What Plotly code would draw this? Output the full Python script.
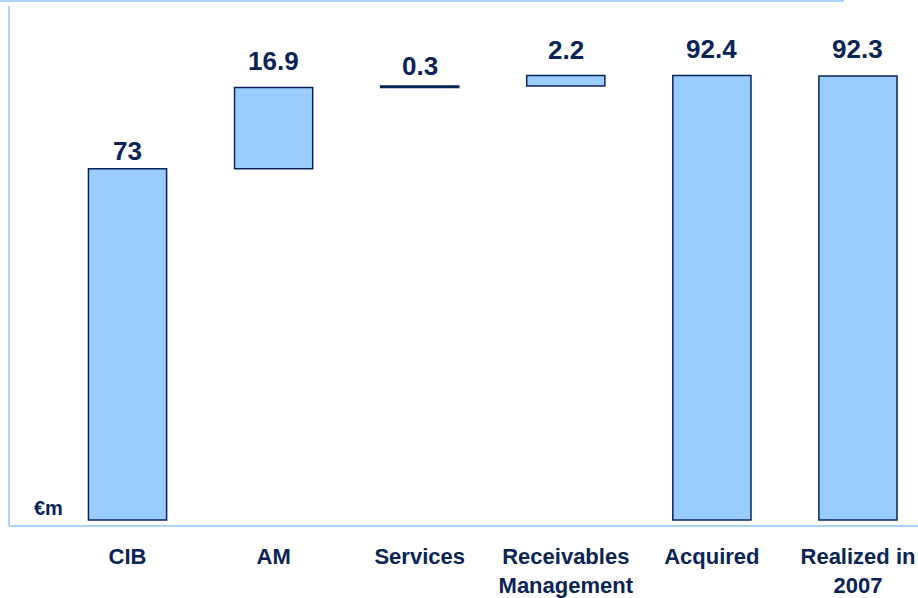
import plotly.graph_objects as go

categories = ["CIB", "AM", "Services", "Receivables<br>Management", "Acquired", "Realized in<br>2007"]
values = [73, 16.9, 0.3, 2.2, 92.4, 92.3]
measures = ["absolute", "relative", "relative", "relative", "total", "absolute"]
labels = ["73", "16.9", "0.3", "2.2", "92.4", "92.3"]

NAVY = "#0a2456"
FILL = "#99CCFF"
FRAME = "#A9D3FF"
FONT = "Liberation Sans, Arial, sans-serif"

xs = list(range(len(categories)))

fig = go.Figure()
fig.add_trace(go.Waterfall(
    x=xs, y=values, measure=measures,
    width=0.535,
    increasing=dict(marker=dict(color=FILL, line=dict(color=NAVY, width=1.5))),
    decreasing=dict(marker=dict(color=FILL, line=dict(color=NAVY, width=1.5))),
    totals=dict(marker=dict(color=FILL, line=dict(color=NAVY, width=1.5))),
    connector=dict(visible=False),
    text=None, hoverinfo="skip", showlegend=False,
))

# compute bar tops for labels
tops = []
cum = 0
for v, m in zip(values, measures):
    if m == "absolute":
        cum = v
    elif m == "relative":
        cum += v
    tops.append(cum)

shifts = [1, 10, 3, 9, 10, 10]
for x, t, lab, s in zip(xs, tops, labels, shifts):
    fig.add_annotation(x=x, y=t, text=lab, showarrow=False, yanchor="bottom",
                       yshift=s, font=dict(family=FONT, size=26, color=NAVY, weight="bold"))

fig.add_annotation(xref="paper", yref="paper", x=48/918, y=(529-511)/529, text="€m",
                   showarrow=False, xanchor="center", yanchor="middle",
                   font=dict(family=FONT, size=20, color=NAVY, weight="bold"))

# frame lines
fig.add_shape(type="line", xref="paper", yref="paper", x0=0, x1=844/918, y0=1 - 1/529, y1=1 - 1/529,
              line=dict(color=FRAME, width=2))
fig.add_shape(type="line", xref="paper", yref="paper", x0=9/918, x1=9/918, y0=0, y1=(529-6)/529,
              line=dict(color=FRAME, width=2))
fig.add_shape(type="line", xref="paper", yref="paper", x0=9/918, x1=1, y0=0, y1=0,
              line=dict(color=FRAME, width=2))

s = 4.838
fig.update_layout(
    width=918, height=598,
    margin=dict(l=0, r=0, t=0, b=69),
    paper_bgcolor="white", plot_bgcolor="white",
    xaxis=dict(range=[-0.873, 5.411], tickmode="array", tickvals=xs, ticktext=categories,
               showgrid=False, zeroline=False, showline=False, ticks="",
               ticklabelstandoff=15,
               tickfont=dict(family=FONT, size=22, color=NAVY, weight="bold"), fixedrange=True),
    yaxis=dict(range=[-6/s, 523/s], showgrid=False, zeroline=False, showline=False,
               showticklabels=False, fixedrange=True),
)

fig.write_html("out.html")
